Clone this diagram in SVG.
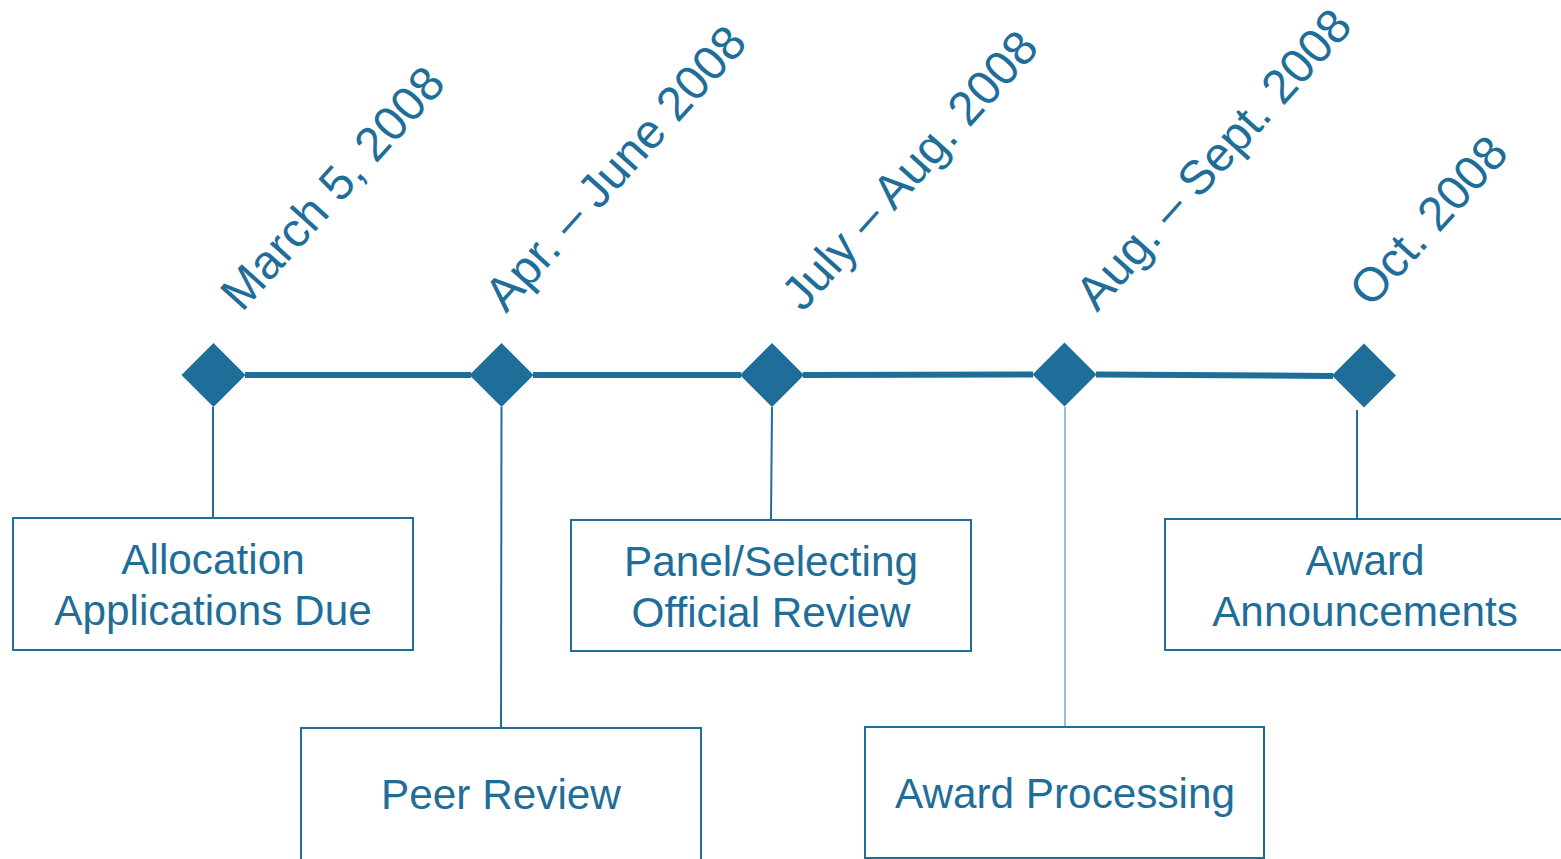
<svg xmlns="http://www.w3.org/2000/svg" width="1561" height="859" viewBox="0 0 1561 859">
<style>
.bg{fill:#ffffff}
.box{fill:#ffffff;stroke:#1F6E9A;stroke-width:2}
.dia{fill:#1F6E9A}
.lbl{font-family:"Liberation Sans",Arial,sans-serif;font-size:42.3px;fill:#1F6E9A;text-anchor:middle}
.date{font-family:"Liberation Sans",Arial,sans-serif;font-size:48px;fill:#1F6E9A}
.tl{stroke:#1F6E9A;stroke-width:6;fill:none}
.vc{stroke:#1F6E9A;stroke-width:2;fill:none}
.vt{stroke:#7FA9C4;stroke-width:1.5;fill:none}
</style>
<rect class="bg" x="0" y="0" width="1561" height="859"/>
<g id="connectors">
<line class="tl" x1="245" y1="375" x2="471" y2="375"/>
<line class="tl" x1="533" y1="375" x2="741" y2="375"/>
<line class="tl" x1="803" y1="375" x2="1033" y2="374.5"/>
<line class="tl" x1="1096" y1="374.5" x2="1333" y2="376"/>
<line class="vc" x1="213" y1="407" x2="213" y2="518"/>
<line class="vc" x1="501.5" y1="407" x2="501" y2="728"/>
<line class="vc" x1="772" y1="407" x2="771" y2="520"/>
<line class="vt" x1="1065" y1="407" x2="1065" y2="727"/>
<line class="vc" x1="1357" y1="410" x2="1357" y2="522"/>
</g>
<g id="m1">
<polygon class="dia" points="213.5,343 245.5,375 213.5,407 181.5,375"/>
<text class="date" transform="translate(242,313) rotate(-48)">March 5, 2008</text>
</g>
<g id="m2">
<polygon class="dia" points="501.5,343 533.5,375 501.5,407 469.5,375"/>
<text class="date" transform="translate(506,314) rotate(-48)">Apr. – June 2008</text>
</g>
<g id="m3">
<polygon class="dia" points="772,343 804,375 772,407 740,375"/>
<text class="date" transform="translate(803,313) rotate(-48)">July – Aug. 2008</text>
</g>
<g id="m4">
<polygon class="dia" points="1064.5,342.5 1096.5,374.5 1064.5,406.5 1032.5,374.5"/>
<text class="date" transform="translate(1097,313) rotate(-48)">Aug. – Sept. 2008</text>
</g>
<g id="m5">
<polygon class="dia" points="1364,343.5 1396,375.5 1364,407.5 1332,375.5"/>
<text class="date" transform="translate(1371,309) rotate(-48)">Oct. 2008</text>
</g>
<g id="n1">
<rect class="box" x="13" y="518" width="400" height="132"/>
<text class="lbl" x="213" y="574">Allocation</text>
<text class="lbl" x="213" y="625">Applications Due</text>
</g>
<g id="n2">
<rect class="box" x="301" y="728" width="400" height="133"/>
<text class="lbl" x="501" y="809">Peer Review</text>
</g>
<g id="n3">
<rect class="box" x="571" y="520" width="400" height="131"/>
<text class="lbl" x="771" y="576">Panel/Selecting</text>
<text class="lbl" x="771" y="627">Official Review</text>
</g>
<g id="n4">
<rect class="box" x="865" y="727" width="399" height="131"/>
<text class="lbl" x="1065" y="808">Award Processing</text>
</g>
<g id="n5">
<rect class="box" x="1165" y="519" width="400" height="131"/>
<text class="lbl" x="1365" y="575">Award</text>
<text class="lbl" x="1365" y="626">Announcements</text>
</g>
</svg>
